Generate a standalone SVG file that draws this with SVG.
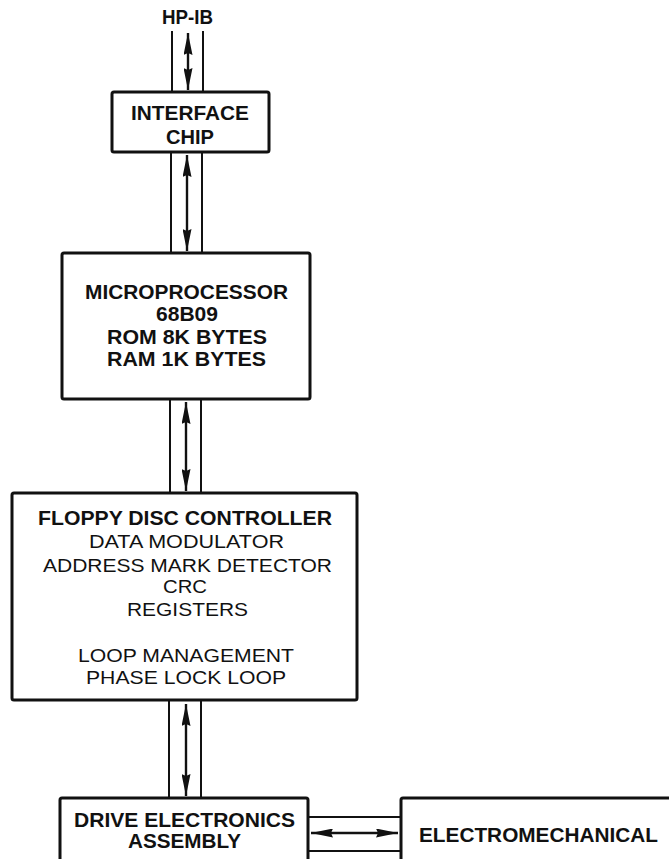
<svg xmlns="http://www.w3.org/2000/svg" width="669" height="859" viewBox="0 0 669 859">
<style>
.box{fill:#fff;stroke:#111;stroke-width:3}
.ch{stroke:#111;stroke-width:2;fill:none}
.ar{stroke:#111;stroke-width:2.4;fill:none;marker-start:url(#ah);marker-end:url(#ah)}
.b{font-family:"Liberation Sans",Arial,sans-serif;font-weight:bold;font-size:19.5px;fill:#111}
.r{font-family:"Liberation Sans",Arial,sans-serif;font-size:18px;fill:#111}
</style>
<defs>
<marker id="ah" viewBox="0 0 22 9" refX="22" refY="4.5" markerWidth="22" markerHeight="9" markerUnits="userSpaceOnUse" orient="auto-start-reverse">
<path d="M0,0 L22,4.5 L0,9 L2,4.5 z" fill="#111"/>
</marker>
</defs>
<rect width="669" height="859" fill="#fff"/>
<g id="connectors">
<line class="ch" x1="172" y1="31" x2="172" y2="93"/>
<line class="ch" x1="203" y1="31" x2="203" y2="93"/>
<line class="ar" x1="188" y1="33" x2="188" y2="90"/>
<line class="ch" x1="171" y1="152" x2="171" y2="253"/>
<line class="ch" x1="202" y1="152" x2="202" y2="253"/>
<line class="ar" x1="187" y1="155" x2="187" y2="251"/>
<line class="ch" x1="170" y1="399" x2="170" y2="493"/>
<line class="ch" x1="201" y1="399" x2="201" y2="493"/>
<line class="ar" x1="186" y1="402" x2="186" y2="491"/>
<line class="ch" x1="169" y1="700" x2="169" y2="798"/>
<line class="ch" x1="201" y1="700" x2="201" y2="798"/>
<line class="ar" x1="186" y1="704" x2="186" y2="796"/>
<line class="ch" x1="308" y1="817" x2="401" y2="817"/>
<line class="ch" x1="308" y1="851" x2="401" y2="851"/>
<line class="ar" x1="311" y1="833" x2="398" y2="833"/>
</g>
<g id="hpib">
<text class="b" x="162" y="24" font-size="17" textLength="51" lengthAdjust="spacingAndGlyphs">HP-IB</text>
</g>
<g id="interface">
<rect class="box" x="112" y="92" width="157" height="60" rx="2"/>
<text class="b" x="131" y="120" textLength="118" lengthAdjust="spacingAndGlyphs">INTERFACE</text>
<text class="b" x="166" y="144" textLength="48" lengthAdjust="spacingAndGlyphs">CHIP</text>
</g>
<g id="microprocessor">
<rect class="box" x="62" y="253" width="248" height="146" rx="2"/>
<text class="b" x="85" y="299" textLength="203" lengthAdjust="spacingAndGlyphs">MICROPROCESSOR</text>
<text class="b" x="156" y="321" textLength="62" lengthAdjust="spacingAndGlyphs">68B09</text>
<text class="b" x="107" y="344" textLength="160" lengthAdjust="spacingAndGlyphs">ROM 8K BYTES</text>
<text class="b" x="107" y="366" textLength="159" lengthAdjust="spacingAndGlyphs">RAM 1K BYTES</text>
</g>
<g id="floppy">
<rect class="box" x="12" y="493" width="345" height="207" rx="2"/>
<text class="b" x="38" y="525" textLength="294" lengthAdjust="spacingAndGlyphs">FLOPPY DISC CONTROLLER</text>
<text class="r" x="89" y="548" textLength="195" lengthAdjust="spacingAndGlyphs">DATA MODULATOR</text>
<text class="r" x="43" y="572" textLength="289" lengthAdjust="spacingAndGlyphs">ADDRESS MARK DETECTOR</text>
<text class="r" x="163" y="593" textLength="44" lengthAdjust="spacingAndGlyphs">CRC</text>
<text class="r" x="127" y="616" textLength="121" lengthAdjust="spacingAndGlyphs">REGISTERS</text>
<text class="r" x="78" y="662" textLength="216" lengthAdjust="spacingAndGlyphs">LOOP MANAGEMENT</text>
<text class="r" x="86" y="684" textLength="200" lengthAdjust="spacingAndGlyphs">PHASE LOCK LOOP</text>
</g>
<g id="drive">
<rect class="box" x="60" y="798" width="248" height="80" rx="2"/>
<text class="b" x="74" y="827" textLength="221" lengthAdjust="spacingAndGlyphs">DRIVE ELECTRONICS</text>
<text class="b" x="128" y="848" textLength="113" lengthAdjust="spacingAndGlyphs">ASSEMBLY</text>
</g>
<g id="electromechanical">
<rect class="box" x="401" y="798" width="300" height="80" rx="2"/>
<text class="b" x="419" y="842" font-size="20" textLength="239" lengthAdjust="spacingAndGlyphs">ELECTROMECHANICAL</text>
</g>
</svg>
